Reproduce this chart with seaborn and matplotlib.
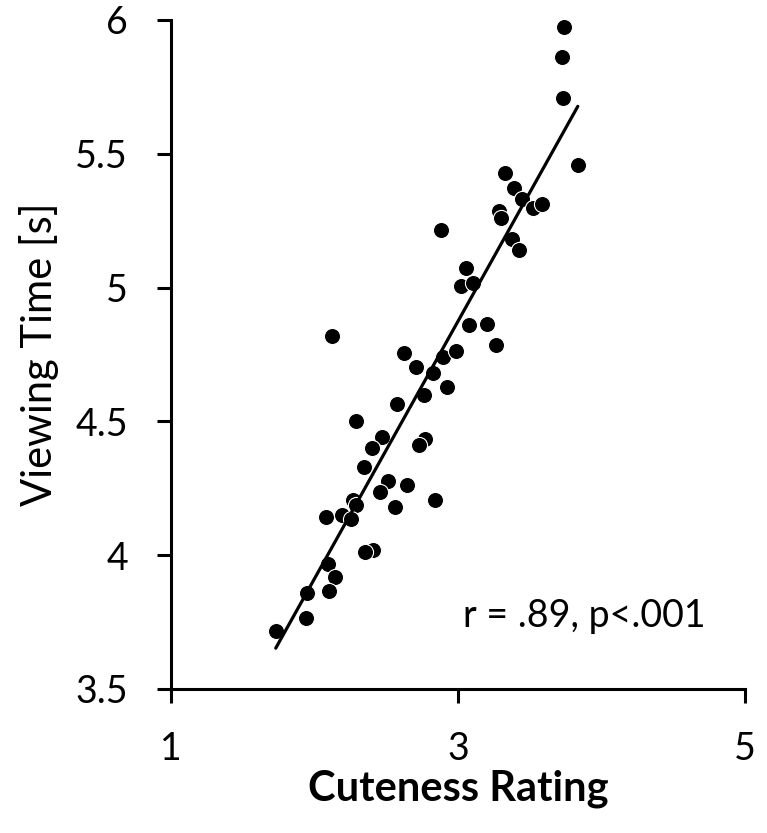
import numpy as np
import pandas as pd
import matplotlib
matplotlib.use("Agg")
import matplotlib.pyplot as plt
import seaborn as sns

# Values
cuteness = [3.741, 3.729, 3.736, 3.836, 3.330, 3.393, 3.444, 3.521, 3.585, 3.284,
            3.300, 2.883, 3.375, 3.428, 3.057, 3.022, 3.108, 3.076, 3.200, 3.266,
            2.122, 2.623, 2.709, 2.899, 2.987, 2.825, 2.922, 2.767, 2.577, 2.291,
            2.472, 2.774, 2.732, 2.401, 2.345, 2.512, 2.646, 2.459, 2.843, 2.561,
            2.268, 2.291, 2.083, 2.194, 2.252, 2.408, 2.350, 2.094, 2.146, 1.951,
            2.099, 1.944, 1.730]
viewing_time = [5.975, 5.863, 5.710, 5.459, 5.427, 5.373, 5.331, 5.296, 5.312, 5.287,
                5.259, 5.215, 5.183, 5.142, 5.072, 5.006, 5.018, 4.860, 4.864, 4.786,
                4.819, 4.754, 4.702, 4.740, 4.764, 4.680, 4.630, 4.599, 4.565, 4.503,
                4.441, 4.434, 4.412, 4.400, 4.329, 4.278, 4.262, 4.236, 4.206, 4.181,
                4.206, 4.188, 4.144, 4.150, 4.135, 4.020, 4.013, 3.967, 3.917, 3.857,
                3.867, 3.764, 3.718]

x_ticks = [1, 3, 5]
y_ticks = [3.5, 4, 4.5, 5, 5.5, 6]
y_tick_labels = ["3.5", "4", "4.5", "5", "5.5", "6"]
stats_text = "r = .89, p<.001"

df = pd.DataFrame({"Cuteness Rating": cuteness, "Viewing Time [s]": viewing_time})

sns.set_style("ticks", {"text.color": "black", "axes.labelcolor": "black",
                        "xtick.color": "black", "ytick.color": "black",
                        "axes.edgecolor": "black"})
plt.rcParams["font.family"] = ["Lato", "DejaVu Sans"]

fig = plt.figure(figsize=(7.67, 8.33), dpi=100)
ax = fig.add_axes([0.223, 0.173, 0.748, 0.803])

sns.regplot(data=df, x="Cuteness Rating", y="Viewing Time [s]", ax=ax, ci=None,
            color="black",
            scatter_kws={"s": 135, "edgecolor": "white", "linewidths": 0.8, "alpha": 1},
            line_kws={"linewidth": 2.3, "color": "black"})

ax.set_xlim(1, 5)
ax.set_ylim(3.5, 6)
ax.set_xticks(x_ticks)
ax.set_xticklabels([str(t) for t in x_ticks])
ax.set_yticks(y_ticks)
ax.set_yticklabels(y_tick_labels)
ax.tick_params(axis="both", labelsize=27, width=2.2, length=10, direction="out",
               color="black", labelcolor="black")
ax.tick_params(axis="x", pad=20)
ax.tick_params(axis="y", pad=21)

for side in ["top", "right"]:
    ax.spines[side].set_visible(False)
for side in ["left", "bottom"]:
    ax.spines[side].set_linewidth(2.2)
    ax.spines[side].set_color("black")

ax.set_xlabel("Cuteness Rating", fontsize=30, fontweight="bold", labelpad=2, color="black")
ax.set_ylabel("Viewing Time [s]", fontsize=30, labelpad=12, color="black")

ax.text(0.7195, 0.0927, stats_text, transform=ax.transAxes, ha="center", va="baseline",
        fontsize=27, color="black")

fig.savefig("out.png", dpi=100)
